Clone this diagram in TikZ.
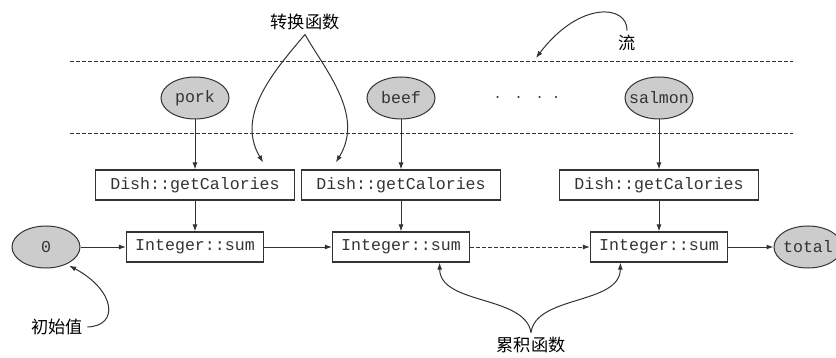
\documentclass[tikz,border=0pt]{standalone}
\usepackage{fontspec}
\setmonofont{Liberation Mono}
\newfontfamily\cjk{Noto Sans CJK SC}
\usetikzlibrary{arrows.meta,shapes.geometric}
\definecolor{inkgray}{HTML}{333333}
\definecolor{foodgray}{HTML}{CCCCCC}
\begin{document}
\begin{tikzpicture}[x=0.5pt, y=-0.5pt, line width=0.5pt, color=inkgray,
        food/.style={ellipse, draw, fill=foodgray, minimum width=34pt, minimum height=21pt,
            inner xsep=-3pt, inner ysep=0pt, font=\fontsize{8.3}{10}\ttfamily},
        dishbox/.style={rectangle, draw, line width=0.6pt, minimum width=99.5pt, minimum height=15pt,
            inner sep=0pt, font=\fontsize{8.3}{10}\ttfamily},
        sumbox/.style={dishbox, minimum width=68.5pt},
        note/.style={inner sep=2pt, text=black, font=\fontsize{8.6}{10}\cjk},
        flow/.style={-{Latex[length=3.5pt,width=2.5pt]}},
        divider/.style={dash pattern=on 2pt off 1pt}]
        \useasboundingbox (0,0) rectangle (836,358);

        % Define the nodes
        \node[food] (pork) at (195,98) {pork};
        \node[food] (beef) at (401,98) {beef};
        \node (dots) at (527,98) {$\cdot\hspace{5.5pt}\cdot\hspace{5.5pt}\cdot\hspace{5.5pt}\cdot$};
        \node[food] (salmon) at (659,98) {salmon};

        \node[dishbox] (dishA) at (195,185) {Dish::getCalories};
        \node[dishbox] (dishB) at (401,185) {Dish::getCalories};
        \node[dishbox] (dishC) at (659,185) {Dish::getCalories};

        \node[food] (zero) at (46,247) {0};
        \node[sumbox] (sumA) at (195,247) {Integer::sum};
        \node[sumbox] (sumB) at (401,247) {Integer::sum};
        \node[sumbox] (sumC) at (659,247) {Integer::sum};
        \node[food] (total) at (808,247) {total};

        \node[note] (trans) at (305,22) {转换函数};
        \node[note] (liu) at (627,43) {流};
        \node[note] (init) at (57,327) {初始值};
        \node[note] (acc) at (531,345) {累积函数};

        \coordinate (liuend) at (536,58);
        \coordinate (funA) at ([xshift=-16pt,yshift=3.5pt]dishA.north east);
        \coordinate (funB) at ([xshift=17.5pt,yshift=3.5pt]dishB.north west);

        % Draw the stream borders
        \draw[divider] (70,62) -- (793,62);
        \draw[divider] (70,134) -- (793,134);

        % Draw the edges
        \draw[flow] (pork) -- (dishA);
        \draw[flow] (beef) -- (dishB);
        \draw[flow] (salmon) -- (dishC);
        \draw[flow] (dishA) -- (sumA);
        \draw[flow] (dishB) -- (sumB);
        \draw[flow] (dishC) -- (sumC);
        \draw[flow] (zero) -- (sumA);
        \draw[flow] (sumA) -- (sumB);
        \draw[flow, divider] (sumB) -- (sumC);
        \draw[flow] (sumC) -- (total);

        % Draw the notes
        \draw[flow] (trans.south) .. controls (275,70) and (235,115) .. (funA);
        \draw[flow] (trans.south) .. controls (325,70) and (365,115) .. (funB);
        \draw[flow] (liu.north) .. controls (628,5) and (580,0) .. (liuend);
        \draw[flow, shorten >=1.5pt] (init.east) .. controls (120,326) and (115,290) .. (zero.-40);
        \draw[flow] (acc.north) .. controls (525,295) and (440,305) .. ([xshift=-15.25pt]sumB.south east);
        \draw[flow] (acc.north) .. controls (536,295) and (620,305) .. ([xshift=15.25pt]sumC.south west);
    \end{tikzpicture}
\end{document}
